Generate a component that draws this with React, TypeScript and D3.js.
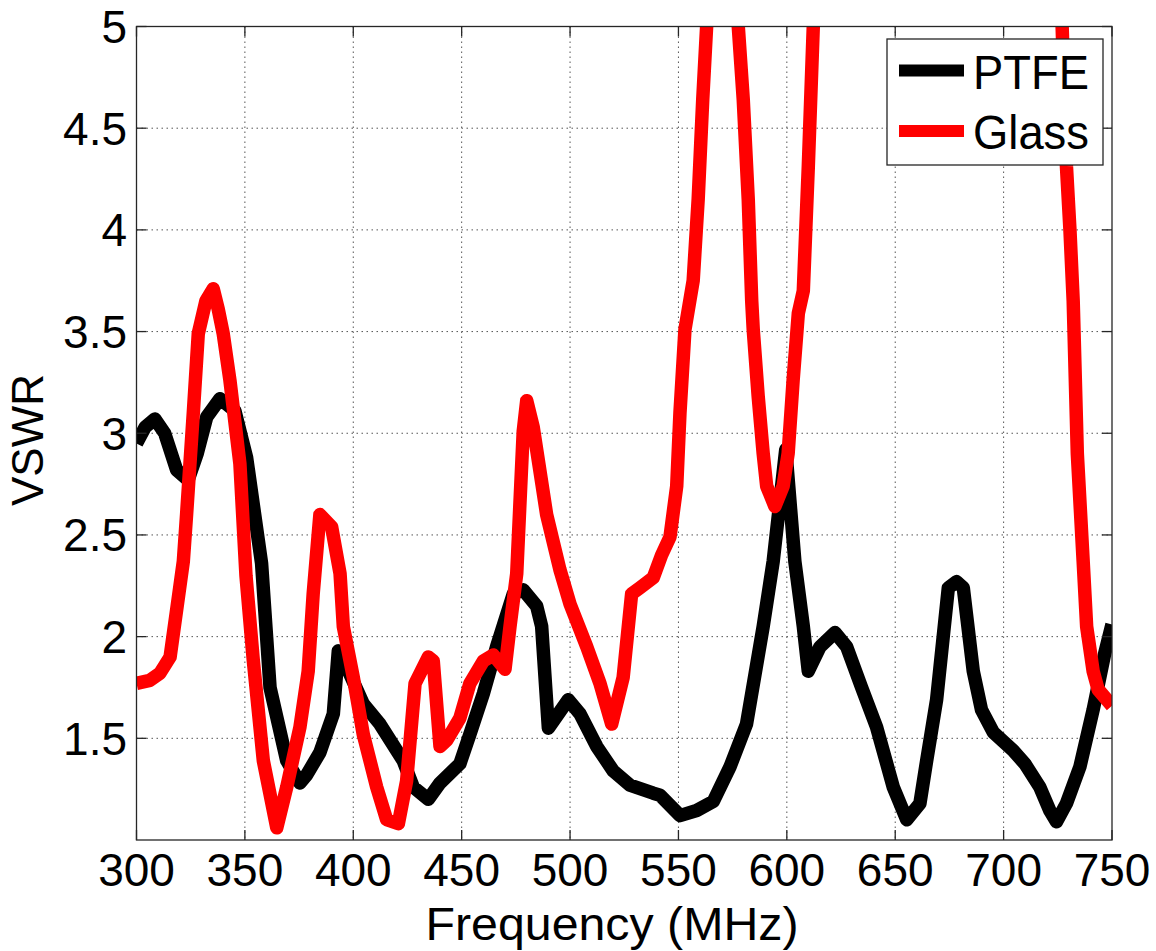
import { useEffect, useRef } from 'react'
import * as d3 from 'd3'

// PTFE curve (MHz, VSWR)
const ptfeFreq = [
  300, 304, 308.5, 313, 318.5, 323.8, 328, 332.4, 338.5, 345.4, 350.8, 357.7, 361.6, 369.3, 375.4,
  378.5, 384.6, 390.8, 393.1, 397, 404.6, 412.3, 423, 427.7, 434.6, 440, 449.2, 453.8, 460, 466.1,
  473.8, 478.4, 484.6, 486.9, 490, 499.2, 504.6, 512.3, 519.9, 527.6, 538.4, 541.5, 550.7, 558.4,
  566.1, 573.8, 581.4, 589.1, 593.7, 599.5, 603.7, 607.6, 609.9, 615.3, 622.2, 627.6, 634.5, 641.4,
  649.1, 655.3, 661.4, 664.5, 669.1, 674.5, 678.3, 681.4, 686, 689.8, 695.2, 704.4, 709.8, 716.7,
  721.3, 724.4, 729, 735.2, 741.3, 746.7, 750,
]
const ptfeVswr = [
  2.95, 3.03, 3.07, 3.0, 2.82, 2.77, 2.9, 3.08, 3.17, 3.11, 2.88, 2.36, 1.75, 1.39, 1.28,
  1.32, 1.43, 1.62, 1.93, 1.85, 1.67, 1.57, 1.39, 1.26, 1.2, 1.28, 1.375, 1.52, 1.72, 1.95,
  2.21, 2.23, 2.15, 2.05, 1.55, 1.69, 1.62, 1.46, 1.34, 1.27, 1.23, 1.22, 1.12, 1.145,
  1.19, 1.36, 1.57, 2.05, 2.37, 2.92, 2.37, 2.05, 1.83, 1.95, 2.02, 1.95, 1.75, 1.555,
  1.26, 1.1, 1.18, 1.39, 1.69, 2.24, 2.27, 2.24, 1.83, 1.64, 1.53, 1.44, 1.375, 1.26,
  1.145, 1.09, 1.18, 1.36, 1.64, 1.92, 2.06,
]

// Glass curve, goes off the top of the axes twice (clipped)
const glassFreq = [
  300, 306.2, 310.8, 315.5, 318.5, 321.6, 323.1, 326.2, 328.5, 332, 335.4, 337.7, 340, 343.1, 347.7,
  350.5, 353.9, 358.5, 364.7, 369.3, 375.4, 379.2, 381.5, 384.6, 390, 393.9, 395.4, 400, 404.6,
  410.8, 415.4, 420.8, 424.6, 428.5, 434.6, 436.9, 440, 443.1, 449.2, 453.8, 460, 464.6, 470,
  472.3, 475.4, 478.4, 480, 483, 489.2, 495.3, 500, 507.7, 513.8, 519.2, 524.5, 528.4, 532.2,
  538.4, 542.2, 546.1, 549.2, 550.7, 553, 556.8, 559.1, 561.2, 563, 566, 575, 577.6, 579.9,
  582.2, 583.8, 584.5, 586.8, 589.1, 590.7, 594.5, 598.3, 600.6, 602.9, 605.3, 607.6, 609.9,
  612.2, 615, 725, 727, 729, 730.6, 732.1, 734, 736.7, 738.3, 741.3, 743.6, 750,
]
const glassVswr = [
  1.77, 1.785, 1.82, 1.9, 2.13, 2.37, 2.6, 3.1, 3.49, 3.65, 3.71, 3.61, 3.49, 3.26, 2.85,
  2.3, 1.88, 1.39, 1.06, 1.26, 1.555, 1.83, 2.21, 2.6, 2.54, 2.31, 2.05, 1.8, 1.52,
  1.26, 1.1, 1.08, 1.29, 1.77, 1.9, 1.88, 1.46, 1.49, 1.6, 1.77, 1.88, 1.91, 1.84,
  2.05, 2.31, 3.01, 3.16, 3.03, 2.6, 2.33, 2.16, 1.95, 1.77, 1.57, 1.8, 2.21, 2.24,
  2.29, 2.4, 2.49, 2.74, 3.1, 3.51, 3.75, 4.15, 4.64, 5.0, 6, 6, 5.0, 4.64,
  4.15, 3.65, 3.51, 3.18, 2.9, 2.74, 2.64, 2.74, 2.9, 3.26, 3.59, 3.7, 4.31,
  5.0, 6, 6, 5.0, 4.31, 4.0, 3.65, 2.9, 2.37, 2.05, 1.83, 1.74, 1.66,
]

const xTicks = [300, 350, 400, 450, 500, 550, 600, 650, 700, 750]
const yTicks = [1.5, 2, 2.5, 3, 3.5, 4, 4.5, 5]
const seriesNames = ['PTFE', 'Glass']
const seriesColors = ['#000000', '#ff0000']

const FONT = '"Liberation Sans", Arial, Helvetica, sans-serif'

const VswrChart = () => {
  const svgRef = useRef(null)

  useEffect(() => {
    const svg = d3.select(svgRef.current)
    svg.selectAll('*').remove()

    const width = 1156
    const height = 951
    const margin = { left: 136.5, top: 26.5, right: 1112, bottom: 840 }

    const x = d3.scaleLinear().domain([300, 750]).range([margin.left, margin.right])
    const y = d3.scaleLinear().domain([1, 5]).range([margin.bottom, margin.top])

    svg.attr('width', width).attr('height', height)
    svg.append('rect').attr('width', width).attr('height', height).attr('fill', '#fff')

    svg
      .append('clipPath')
      .attr('id', 'plot-clip')
      .append('rect')
      .attr('x', margin.left)
      .attr('y', margin.top)
      .attr('width', margin.right - margin.left)
      .attr('height', margin.bottom - margin.top)

    // dotted grid
    const grid = svg.append('g').attr('stroke', '#555').attr('stroke-width', 1).attr('stroke-dasharray', '1.5,3.5')
    xTicks.slice(1, -1).forEach((t) => {
      grid.append('line').attr('x1', x(t)).attr('x2', x(t)).attr('y1', margin.top).attr('y2', margin.bottom)
    })
    yTicks.slice(0, -1).forEach((t) => {
      grid.append('line').attr('x1', margin.left).attr('x2', margin.right).attr('y1', y(t)).attr('y2', y(t))
    })

    // curves
    const line = d3
      .line()
      .x((d) => x(d[0]))
      .y((d) => y(d[1]))

    const series = [
      d3.zip(ptfeFreq, ptfeVswr),
      d3.zip(glassFreq, glassVswr),
    ]

    const plot = svg.append('g').attr('clip-path', 'url(#plot-clip)')
    series.forEach((data, i) => {
      plot
        .append('path')
        .attr('d', line(data))
        .attr('fill', 'none')
        .attr('stroke', seriesColors[i])
        .attr('stroke-width', 13.5)
        .attr('stroke-linejoin', 'round')
    })

    // box + inward ticks on all sides
    const axis = svg.append('g').attr('stroke', '#262626').attr('stroke-width', 1.3)
    axis
      .append('rect')
      .attr('x', margin.left)
      .attr('y', margin.top)
      .attr('width', margin.right - margin.left)
      .attr('height', margin.bottom - margin.top)
      .attr('fill', 'none')
    const tl = 10
    xTicks.forEach((t) => {
      axis.append('line').attr('x1', x(t)).attr('x2', x(t)).attr('y1', margin.bottom).attr('y2', margin.bottom - tl)
      axis.append('line').attr('x1', x(t)).attr('x2', x(t)).attr('y1', margin.top).attr('y2', margin.top + tl)
    })
    yTicks.forEach((t) => {
      axis.append('line').attr('x1', margin.left).attr('x2', margin.left + tl).attr('y1', y(t)).attr('y2', y(t))
      axis.append('line').attr('x1', margin.right).attr('x2', margin.right - tl).attr('y1', y(t)).attr('y2', y(t))
    })

    // tick labels
    const labels = svg.append('g').attr('font-family', FONT).attr('font-size', 46).attr('fill', '#000')
    xTicks.forEach((t) => {
      labels.append('text').attr('x', x(t)).attr('y', 886).attr('text-anchor', 'middle').text(t)
    })
    yTicks.forEach((t) => {
      labels
        .append('text')
        .attr('x', 127)
        .attr('y', y(t))
        .attr('dy', '0.36em')
        .attr('text-anchor', 'end')
        .text(t)
    })

    // axis titles
    svg
      .append('text')
      .attr('x', 612)
      .attr('y', 940)
      .attr('text-anchor', 'middle')
      .attr('font-family', FONT)
      .attr('font-size', 46)
      .attr('textLength', 373)
      .attr('lengthAdjust', 'spacingAndGlyphs')
      .text('Frequency (MHz)')

    svg
      .append('text')
      .attr('transform', `translate(43, 440) rotate(-90)`)
      .attr('text-anchor', 'middle')
      .attr('font-family', FONT)
      .attr('font-size', 44)
      .text('VSWR')

    // legend
    const legend = svg.append('g')
    legend
      .append('rect')
      .attr('x', 887)
      .attr('y', 39)
      .attr('width', 216)
      .attr('height', 126)
      .attr('fill', '#fff')
      .attr('stroke', '#262626')
      .attr('stroke-width', 1.3)
    seriesNames.forEach((name, i) => {
      const cy = 70.5 + i * 60.5
      legend
        .append('line')
        .attr('x1', 899)
        .attr('x2', 964)
        .attr('y1', cy)
        .attr('y2', cy)
        .attr('stroke', seriesColors[i])
        .attr('stroke-width', 12)
      legend
        .append('text')
        .attr('x', 973)
        .attr('y', cy + 18)
        .attr('font-family', FONT)
        .attr('font-size', 49)
        .attr('textLength', 116)
        .attr('lengthAdjust', 'spacingAndGlyphs')
        .text(name)
    })
  }, [])

  return <svg ref={svgRef} style={{ position: 'absolute', left: 0, top: 0 }}></svg>
}

export default function App() {
  return <VswrChart />
}
